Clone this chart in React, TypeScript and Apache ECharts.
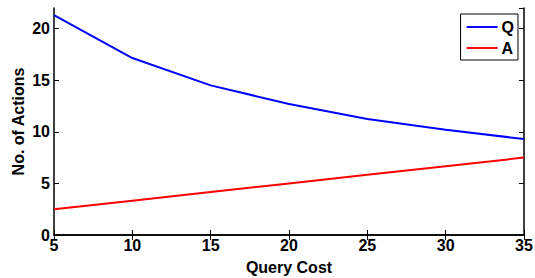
import React, { useEffect, useRef } from "react";
import * as echarts from "echarts";

const queryCost = [5, 10, 15, 20, 25, 30, 35];
const qValues = [21.3, 17.15, 14.5, 12.7, 11.25, 10.2, 9.3];
const aValues = [2.5, 3.33, 4.17, 5.0, 5.83, 6.67, 7.5];
const seriesNames = ["Q", "A"];

export default function App() {
  const ref = useRef<HTMLDivElement>(null);
  useEffect(() => {
    const chart = echarts.init(ref.current!, null, { renderer: "svg" });
    const font = "'Liberation Sans', Arial, sans-serif";
    const axisCommon = {
      axisLine: { show: true, lineStyle: { color: "#000", width: 1.5 } },
      axisTick: { show: true, inside: true, length: 5, lineStyle: { color: "#000", width: 1 } },
      splitLine: { show: false },
    };
    chart.setOption({
      animation: false,
      backgroundColor: "#fff",
      grid: { left: 54, right: 11, top: 8, bottom: 43, containLabel: false, outerBoundsMode: "none" },
      legend: {
        data: seriesNames,
        orient: "vertical",
        right: 17,
        top: 14,
        borderColor: "#000",
        borderWidth: 1,
        padding: [5, 4, 4, 6],
        itemGap: 5,
        itemWidth: 31,
        itemHeight: 16,
        icon: "path://M0,7 L32,7 L32,9 L0,9 Z",
        textStyle: { fontFamily: font, fontWeight: "bold", fontSize: 16, color: "#000", padding: [0, 0, 0, -1] },
      },
      xAxis: [
        {
          type: "value",
          min: 5,
          max: 35,
          interval: 5,
          name: "Query Cost",
          nameLocation: "middle",
          nameGap: 24,
          nameTextStyle: { fontFamily: font, fontWeight: "bold", fontSize: 16, color: "#000" },
          axisLabel: { fontFamily: font, fontWeight: "bold", fontSize: 16, color: "#000", margin: 2 },
          ...axisCommon,
        },
        {
          type: "value",
          min: 5,
          max: 35,
          interval: 5,
          position: "top",
          axisLabel: { show: false },
          ...axisCommon,
        },
      ],
      yAxis: [
        {
          type: "value",
          min: 0,
          max: 22,
          interval: 5,
          name: "No. of Actions",
          nameLocation: "middle",
          nameGap: 28,
          nameMoveOverlap: false,
          nameTextStyle: { fontFamily: font, fontWeight: "bold", fontSize: 16, color: "#000" },
          axisLabel: { fontFamily: font, fontWeight: "bold", fontSize: 16, color: "#000", margin: 4, showMaxLabel: false },
          ...axisCommon,
        },
        {
          type: "value",
          min: 0,
          max: 22,
          interval: 5,
          position: "right",
          axisLabel: { show: false },
          ...axisCommon,
        },
      ],
      series: [
        {
          name: seriesNames[0],
          type: "line",
          data: queryCost.map((x, i) => [x, qValues[i]]),
          showSymbol: false,
          lineStyle: { color: "#0000ff", width: 2 },
          itemStyle: { color: "#0000ff" },
        },
        {
          name: seriesNames[1],
          type: "line",
          data: queryCost.map((x, i) => [x, aValues[i]]),
          showSymbol: false,
          lineStyle: { color: "#ff0000", width: 2 },
          itemStyle: { color: "#ff0000" },
        },
      ],
    });
    return () => chart.dispose();
  }, []);
  return <div ref={ref} style={{ width: 535, height: 278, position: "absolute", left: 0, top: 0 }} />;
}
